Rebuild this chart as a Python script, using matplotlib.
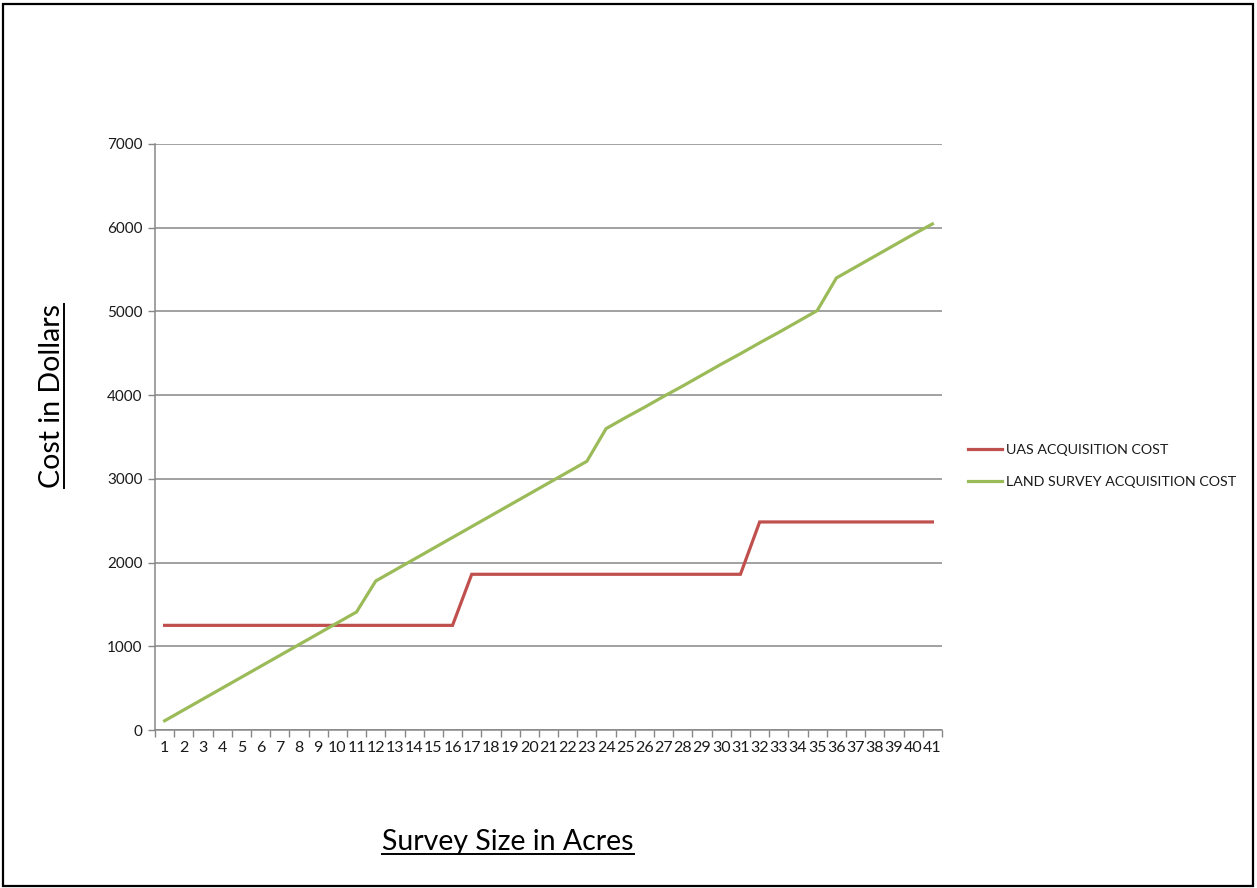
import matplotlib
matplotlib.use("Agg")
import matplotlib.pyplot as plt
from matplotlib.lines import Line2D
from matplotlib.patches import Rectangle

acres = list(range(1, 42))
x_labels = [str(a) for a in acres]
uas_cost = [1250, 1250, 1250, 1250, 1250, 1250, 1250, 1250, 1250, 1250,
            1250, 1250, 1250, 1250, 1250, 1250, 1860, 1860, 1860, 1860,
            1860, 1860, 1860, 1860, 1860, 1860, 1860, 1860, 1860, 1860,
            1860, 2485, 2485, 2485, 2485, 2485, 2485, 2485, 2485, 2485,
            2485]
land_cost = [110, 240, 370, 500, 630, 760, 890, 1020, 1150, 1280,
             1410, 1780, 1910, 2040, 2170, 2300, 2430, 2560, 2690, 2820,
             2950, 3080, 3210, 3600, 3730, 3855, 3985, 4110, 4240, 4370,
             4495, 4625, 4750, 4880, 5010, 5400, 5530, 5660, 5790, 5920,
             6045]
y_ticks = [0, 1000, 2000, 3000, 4000, 5000, 6000, 7000]
series_names = ["UAS ACQUISITION COST", "LAND SURVEY ACQUISITION COST"]

RED = "#C0504D"
GREEN = "#9BBB59"
GRID = "#878787"
FONT = ["Lato", "DejaVu Sans"]

W, H = 1257, 888
fig = plt.figure(figsize=(W / 100, H / 100), dpi=100)
fig.patch.set_facecolor("white")

# outer border
fig.add_artist(Rectangle((3 / W, 2 / H), 1250 / W, 882 / H, transform=fig.transFigure,
                         fill=False, edgecolor="black", linewidth=1.6))

ax = fig.add_axes([155 / W, 1 - 730 / H, (942 - 155) / W, (730 - 144) / H])
ax.plot(acres, uas_cost, color=RED, lw=2.3, label=series_names[0], solid_joinstyle="miter")
ax.plot(acres, land_cost, color=GREEN, lw=2.3, label=series_names[1], solid_joinstyle="miter")

ax.set_xlim(0.5, 41.5)
ax.set_ylim(0, 7000)
ax.set_yticks(y_ticks)
ax.set_yticklabels([str(v) for v in y_ticks], fontsize=11, family=FONT, color="#1a1a1a")
ax.set_xticks(acres)
ax.set_xticklabels(x_labels, fontsize=11.5, family=FONT, color="#1a1a1a")
ax.set_xticks([a + 0.5 for a in [0] + acres], minor=True)
ax.tick_params(axis="x", which="major", length=0, pad=8)
ax.tick_params(axis="x", which="minor", length=5, color=GRID, width=1)
ax.tick_params(axis="y", which="major", length=5, color=GRID, width=1, pad=4)

ax.yaxis.grid(True, color=GRID, lw=1.1)
ax.set_axisbelow(True)
for s in ["top", "right"]:
    ax.spines[s].set_visible(False)
for s in ["left", "bottom"]:
    ax.spines[s].set_color(GRID)
    ax.spines[s].set_linewidth(1.1)

leg = fig.legend(loc="center left", bbox_to_anchor=(955 / W, 1 - 466 / H), frameon=False,
                 prop={"family": FONT, "size": 10.3}, handlelength=2.4, handletextpad=0.3,
                 labelspacing=1.4)
for t in leg.get_texts():
    t.set_color("#1a1a1a")

# axis titles with underline
t_y = fig.text(52 / W, 1 - 396 / H, "Cost in Dollars", rotation=90, ha="center", va="center",
               fontsize=20.5, family=FONT, color="black")
t_x = fig.text(508 / W, 1 - 842 / H, "Survey Size in Acres", ha="center", va="center",
               fontsize=20.5, family=FONT, color="black")

fig.canvas.draw()
r = fig.canvas.get_renderer()
bb = t_y.get_window_extent(r)
xl = (bb.x1 - 1) / W
fig.add_artist(Line2D([xl, xl], [bb.y0 / H, bb.y1 / H], transform=fig.transFigure,
                      color="black", lw=1.4))
bb = t_x.get_window_extent(r)
yl = (bb.y0 + 1) / H
fig.add_artist(Line2D([bb.x0 / W, bb.x1 / W], [yl, yl], transform=fig.transFigure,
                      color="black", lw=1.4))

fig.savefig("out.png", dpi=100)
